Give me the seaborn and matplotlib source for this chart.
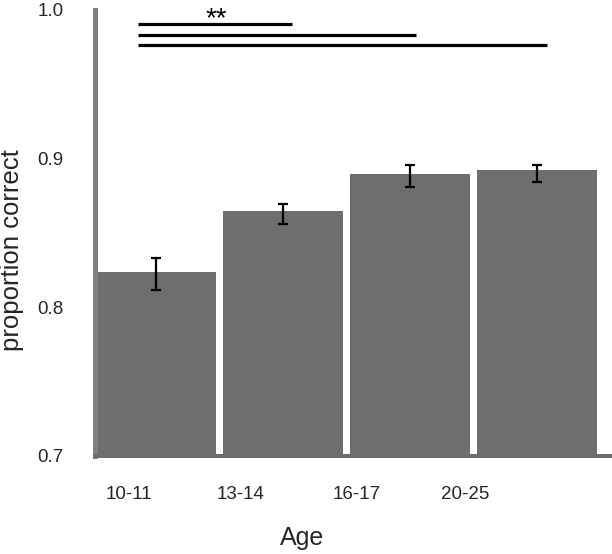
import matplotlib
matplotlib.use("Agg")
import matplotlib.pyplot as plt
import seaborn as sns
import pandas as pd
import numpy as np

# Data
ages = ["10-11", "13-14", "16-17", "20-25"]
prop_correct = [0.8238, 0.8648, 0.8897, 0.8924]
err_low = [0.8117, 0.8561, 0.8809, 0.8843]
err_high = [0.8332, 0.8695, 0.8957, 0.8957]

# significance brackets: (start, end) in bar units and height
sig_x_start = [-0.138, -0.138, -0.138]
sig_x_end = [1.075, 2.05, 3.075]
sig_y = [0.9906, 0.9832, 0.9765]
sig_label = "**"

df = pd.DataFrame({"Age": ages, "proportion correct": prop_correct})

sns.set_style("white")
plt.rcParams["font.family"] = ["Liberation Sans", "DejaVu Sans"]

fig = plt.figure(figsize=(6.12, 5.54), dpi=100)
ax = fig.add_axes([0.156, 0.177, 0.841, 0.805])

sns.barplot(data=df, x="Age", y="proportion correct", color="#6e6e6e",
            saturation=1, width=0.95, errorbar=None, linewidth=0,
            edgecolor="none", ax=ax)

# error bars
means = np.array(prop_correct)
yerr = [means - np.array(err_low), np.array(err_high) - means]
ax.errorbar(np.arange(len(ages)), means, yerr=yerr, fmt="none",
            ecolor="black", elinewidth=1.6, capsize=3.6, capthick=1.6)

# significance lines
for x0, x1, y in zip(sig_x_start, sig_x_end, sig_y):
    ax.plot([x0, x1], [y, y], color="black", lw=2.3, solid_capstyle="butt",
            clip_on=False)
ax.text(0.476, 0.9935, sig_label, ha="center", va="center", fontsize=20,
        color="black")

ax.set_ylim(0.7, 1.0)
ax.set_xlim(-0.475, 3.576)
ax.set_yticks([0.7, 0.8, 0.9, 1.0])
ax.set_yticklabels(["0.7", "0.8", "0.9", "1.0"])

# tick labels sit offset from the bars in the original
ax.set_xticks([-0.209, 0.665, 1.579, 2.437])
ax.set_xticklabels(ages)
ax.tick_params(axis="x", length=0, pad=22, labelsize=13.5)
ax.tick_params(axis="y", length=0, pad=23, labelsize=13.5)

ax.set_xlabel("Age", fontsize=18)
ax.set_ylabel("proportion correct", fontsize=18.5)
ax.xaxis.set_label_coords(0.401, -0.184)
ax.yaxis.set_label_coords(-0.163, 0.462)
ax.xaxis.label.set_va("center")
ax.yaxis.label.set_va("center")

for side in ["top", "right"]:
    ax.spines[side].set_visible(False)
ax.spines["left"].set_color("#808080")
ax.spines["left"].set_linewidth(3.6)
ax.spines["bottom"].set_color("#6e6e6e")
ax.spines["bottom"].set_linewidth(2.9)

fig.savefig("out.png", dpi=100)
